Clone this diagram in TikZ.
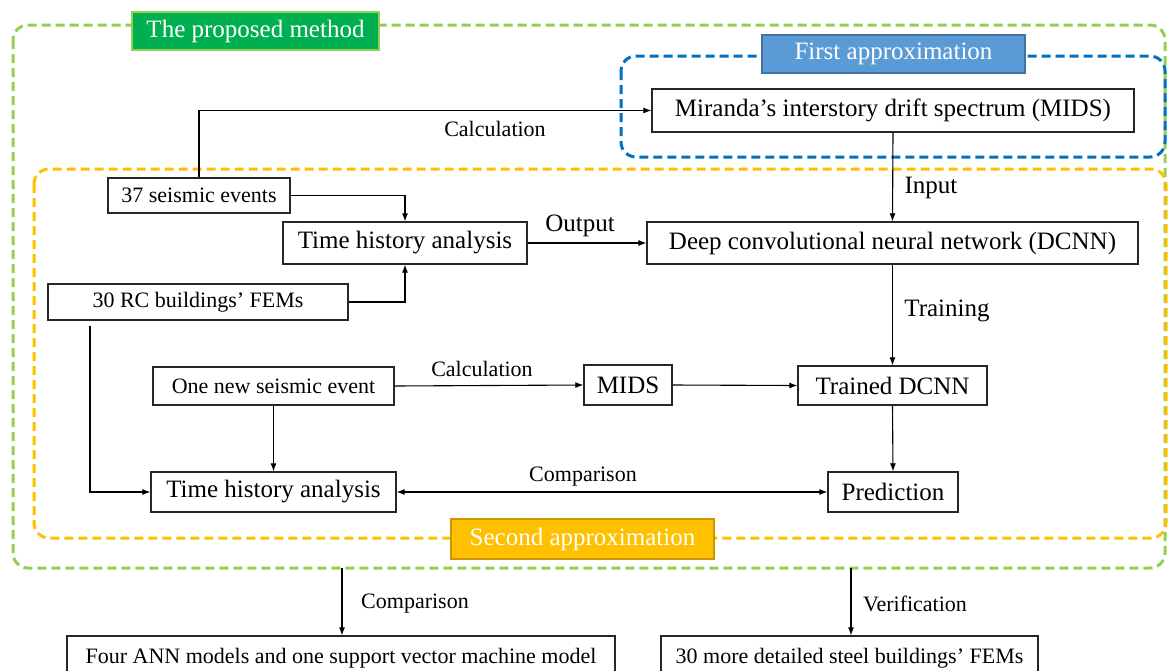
\documentclass[tikz,border=0pt]{standalone}
\usepackage{fontspec}
\setmainfont{LiberationSerif}[Extension=.ttf,UprightFont=*-Regular,BoldFont=*-Bold,ItalicFont=*-Italic,BoldItalicFont=*-BoldItalic]
\usetikzlibrary{arrows.meta}
\definecolor{gdash}{HTML}{92D050}
\definecolor{gfill}{HTML}{00B050}
\definecolor{bdash}{HTML}{0070C0}
\definecolor{bfill}{HTML}{5B9BD5}
\definecolor{bedge}{HTML}{41719C}
\definecolor{odash}{HTML}{FFC000}
\definecolor{oedge}{HTML}{C99700}
\tikzset{
  x=1pt,y=-1pt,
  box/.style={draw=black!85,line width=1.2pt,fill=white,inner sep=0pt,align=center,font=\fontsize{25}{30}\selectfont},
  sbox/.style={box,font=\fontsize{22}{26}\selectfont},
  lab/.style={inner sep=0pt,font=\fontsize{22}{26}\selectfont},
  blab/.style={inner sep=0pt,font=\fontsize{25}{30}\selectfont},
  tag/.style={inner sep=0pt,text=white,line width=1.2pt,font=\fontsize{25}{30}\selectfont},
  region/.style={line width=3pt,dash pattern=on 9pt off 5pt,rounded corners=15pt},
  arr/.style={line width=1.1pt,-{Latex[length=8pt,width=6pt]}},
  darr/.style={line width=1.1pt,{Latex[length=8pt,width=6pt]}-{Latex[length=8pt,width=6pt]}},
}
\begin{document}
\begin{tikzpicture}
\useasboundingbox[fill=white] (0,0) rectangle (1170,670);
% regions
\draw[region,draw=gdash] (13,25) rectangle (1165,568);
\draw[region,draw=bdash] (621,56) rectangle (1165,157);
\draw[region,draw=odash] (34,169) rectangle (1166,538);
% tags
\node[tag,fill=gfill,draw=gdash,minimum width=247,minimum height=38] (pm) at (255.5,31) {The proposed method};
\node[tag,fill=bfill,draw=bedge,minimum width=263,minimum height=38] (fa) at (893.5,54) {First approximation};
\node[tag,fill=odash,draw=oedge,minimum width=263,minimum height=40] (sa) at (582.5,539) {Second approximation};
% boxes
\node[box,minimum width=482,minimum height=43] (midsTop) at (893,110.5) {Miranda’s interstory drift spectrum (MIDS)};
\node[sbox,minimum width=182,minimum height=35] (ev37) at (199,195.5) {37 seismic events};
\node[box,minimum width=244,minimum height=42] (th1) at (405,243) {Time history analysis};
\node[box,minimum width=491,minimum height=42] (dcnn) at (892.5,243) {Deep convolutional neural network (DCNN)};
\node[sbox,minimum width=300,minimum height=36] (rc) at (198,302) {30 RC buildings’ FEMs};
\node[sbox,minimum width=241,minimum height=38] (newev) at (273.5,386) {One new seismic event};
\node[box,minimum width=88,minimum height=40] (mids2) at (628,385) {MIDS};
\node[box,minimum width=189,minimum height=39] (tdcnn) at (892.5,385.5) {Trained DCNN};
\node[box,minimum width=130,minimum height=40] (pred) at (893,492) {Prediction};
\node[box,minimum width=245,minimum height=40] (th2) at (273.5,492) {Time history analysis};
\node[sbox,minimum width=548,minimum height=44] (ann) at (341,658) {Four ANN models and one support vector machine model};
\node[sbox,minimum width=377,minimum height=44] (steel) at (849.5,658) {30 more detailed steel buildings’ FEMs};
% connectors
\draw[arr] (ev37.north) |- (midsTop.west);
\node[lab] (l1) at (495,129) {Calculation};
\draw[arr] (ev37.east) -| (th1.north);
\draw[arr] (th1.east) -- (dcnn.west);
\node[blab] (l2) at (580,226) {Output};
\draw[arr] (midsTop.south) -- (dcnn.north);
\node[blab] (l3) at (931,188) {Input};
\draw[arr] (rc.east) -| (th1.south);
\draw[arr] (dcnn.south) -- (tdcnn.north);
\node[blab] (l4) at (947,311) {Training};
\draw[arr] (newev.east) -- (mids2.west);
\node[lab] (l5) at (482,369) {Calculation};
\draw[arr] (mids2.east) -- (tdcnn.west);
\draw[arr] (tdcnn.south) -- (pred.north);
\draw[arr] (newev.south) -- (th2.north);
\draw[arr] ([xshift=-108pt,yshift=-5pt]rc.south) |- (th2.west);
\draw[darr] (th2.east) -- (pred.west);
\node[lab] (l6) at (583,477) {Comparison};
\coordinate (g1) at (342,568);
\coordinate (g2) at (851,568);
\draw[arr] (g1) -- (g1 |- ann.north);
\node[lab] (l7) at (415,604) {Comparison};
\draw[arr] (g2) -- (g2 |- steel.north);
\node[lab] (l8) at (915,604) {Verification};
\end{tikzpicture}
\end{document}
